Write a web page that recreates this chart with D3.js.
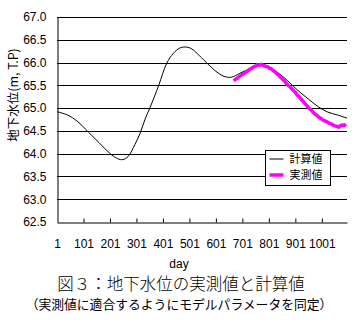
<!DOCTYPE html>
<html>
<head>
<meta charset="utf-8">
<script src="https://cdn.jsdelivr.net/npm/d3@7"></script>
<style>
  html, body { margin: 0; padding: 0; background: #fff; }
  svg { display: block; }
</style>
</head>
<body>
<svg id="chart" width="358" height="326"></svg>
<script>
// Calculated groundwater level (m, T.P.) by day
const calcDays = [1, 40, 80, 120, 160, 200, 230, 250, 270, 295, 315, 335, 355, 385, 415, 440, 465, 490, 510, 530, 565, 605, 635, 660, 690, 730, 760, 790, 830, 870, 910, 950, 985, 1020, 1060, 1096];
const calcValues = [64.92, 64.85, 64.70, 64.47, 64.24, 64.01, 63.89, 63.87, 63.94, 64.20, 64.45, 64.78, 65.05, 65.50, 65.98, 66.20, 66.32, 66.34, 66.30, 66.20, 66.00, 65.79, 65.69, 65.68, 65.76, 65.87, 65.94, 65.93, 65.80, 65.61, 65.39, 65.20, 65.04, 64.92, 64.85, 64.78];

// Observed groundwater level (m, T.P.) by day
const obsDays = [668, 675, 682, 690, 698, 705, 712, 720, 728, 735, 742, 750, 758, 765, 772, 780, 788, 795, 802, 810, 818, 825, 832, 840, 848, 855, 862, 870, 878, 885, 892, 900, 908, 915, 922, 930, 938, 945, 952, 960, 968, 975, 982, 990, 998, 1005, 1012, 1020, 1028, 1035, 1042, 1050, 1058, 1065, 1072, 1080, 1086, 1092];
const obsValues = [65.60, 65.63, 65.66, 65.70, 65.73, 65.75, 65.78, 65.81, 65.85, 65.87, 65.90, 65.92, 65.95, 65.94, 65.96, 65.94, 65.92, 65.91, 65.88, 65.86, 65.82, 65.79, 65.75, 65.71, 65.66, 65.62, 65.58, 65.52, 65.48, 65.44, 65.40, 65.35, 65.29, 65.25, 65.20, 65.15, 65.09, 65.05, 65.00, 64.96, 64.91, 64.87, 64.84, 64.80, 64.77, 64.74, 64.72, 64.70, 64.67, 64.66, 64.63, 64.61, 64.60, 64.58, 64.62, 64.63, 64.62, 64.65];

const yTicks = [62.5, 63.0, 63.5, 64.0, 64.5, 65.0, 65.5, 66.0, 66.5, 67.0];
const xTicks = [1, 101, 201, 301, 401, 501, 601, 701, 801, 901, 1001];
const seriesNames = ["計算値", "実測値"];

const svg = d3.select("#chart");
const margin = { left: 57, top: 17, right: 347, bottom: 222 };

const x = d3.scaleLinear().domain([1, 1096]).range([margin.left, margin.right]);
const y = d3.scaleLinear().domain([62.5, 67.0]).range([margin.bottom, margin.top]);

const numFont = "'Liberation Sans', Arial, sans-serif";
const jpFont = "'Noto Sans CJK JP', sans-serif";

// Horizontal gridlines
svg.append("g")
  .selectAll("line")
  .data(yTicks.filter(v => v > 62.5))
  .join("line")
  .attr("x1", margin.left).attr("x2", margin.right)
  .attr("y1", d => Math.round(y(d)) + 0.5).attr("y2", d => Math.round(y(d)) + 0.5)
  .attr("stroke", "#000").attr("stroke-width", 1);

// Y axis
const yAxis = svg.append("g")
  .attr("transform", `translate(${margin.left + 0.5},0)`)
  .call(d3.axisLeft(y).tickValues(yTicks).tickFormat(d3.format(".1f")).tickSize(0).tickPadding(11));
yAxis.select(".domain").attr("stroke", "#000");
yAxis.selectAll("text").attr("font-family", numFont).attr("font-size", 12).attr("fill", "#000");

// X axis with inward ticks
const xAxis = svg.append("g")
  .attr("transform", `translate(0,${Math.round(y(62.5)) + 0.5})`)
  .call(d3.axisBottom(x).tickValues(xTicks).tickFormat(d3.format("d")).tickSizeInner(-4).tickSizeOuter(0).tickPadding(17));
xAxis.select(".domain").attr("stroke", "#000");
xAxis.selectAll(".tick line").attr("stroke", "#000");
xAxis.selectAll(".tick").filter(d => d === 1).select("line").remove();
xAxis.selectAll("text").attr("font-family", numFont).attr("font-size", 12).attr("fill", "#000");

// Series lines
svg.append("path")
  .datum(d3.zip(calcDays, calcValues))
  .attr("fill", "none").attr("stroke", "#000").attr("stroke-width", 1)
  .attr("d", d3.line().x(d => x(d[0])).y(d => y(d[1])).curve(d3.curveCatmullRom.alpha(0.5)));

svg.append("path")
  .datum(d3.zip(obsDays, obsValues))
  .attr("fill", "none").attr("stroke", "#ff00ff").attr("stroke-width", 3.5)
  .attr("stroke-linejoin", "round")
  .attr("d", d3.line().x(d => x(d[0])).y(d => y(d[1])));

// Legend
const legend = svg.append("g").attr("transform", "translate(265.5,150.5)");
legend.append("rect").attr("width", 65).attr("height", 35)
  .attr("fill", "#fff").attr("stroke", "#000").attr("stroke-width", 1);
const legendStyles = [{ color: "#000", width: 1 }, { color: "#ff00ff", width: 3.5 }];
seriesNames.forEach((name, i) => {
  const cy = 8.5 + i * 16;
  legend.append("line").attr("x1", 4).attr("x2", 18).attr("y1", cy).attr("y2", cy)
    .attr("stroke", legendStyles[i].color).attr("stroke-width", legendStyles[i].width);
  legend.append("text").attr("x", 24).attr("y", cy).attr("dy", "0.36em")
    .attr("font-family", jpFont).attr("font-size", 11).attr("fill", "#000").text(name);
});

// Axis titles
svg.append("text")
  .attr("transform", "translate(13,95) rotate(-90)")
  .attr("text-anchor", "middle").attr("dy", "0.36em")
  .attr("font-family", jpFont).attr("font-size", 12.5).attr("fill", "#000")
  .text("地下水位(m, T.P)");

svg.append("text")
  .attr("x", 179).attr("y", 264).attr("text-anchor", "middle").attr("dy", "0.36em")
  .attr("font-family", numFont).attr("font-size", 12).attr("fill", "#000")
  .text("day");

// Figure caption
svg.append("text")
  .attr("x", 181).attr("y", 284).attr("text-anchor", "middle").attr("dy", "0.36em")
  .attr("font-family", jpFont).attr("font-size", 16.5).attr("font-weight", 300).attr("fill", "#000")
  .text("図３：地下水位の実測値と計算値");

svg.append("text")
  .attr("x", 179).attr("y", 304).attr("text-anchor", "middle").attr("dy", "0.36em")
  .attr("font-family", jpFont).attr("font-size", 12.8).attr("fill", "#000")
  .text("（実測値に適合するようにモデルパラメータを同定）");
</script>
</body>
</html>
